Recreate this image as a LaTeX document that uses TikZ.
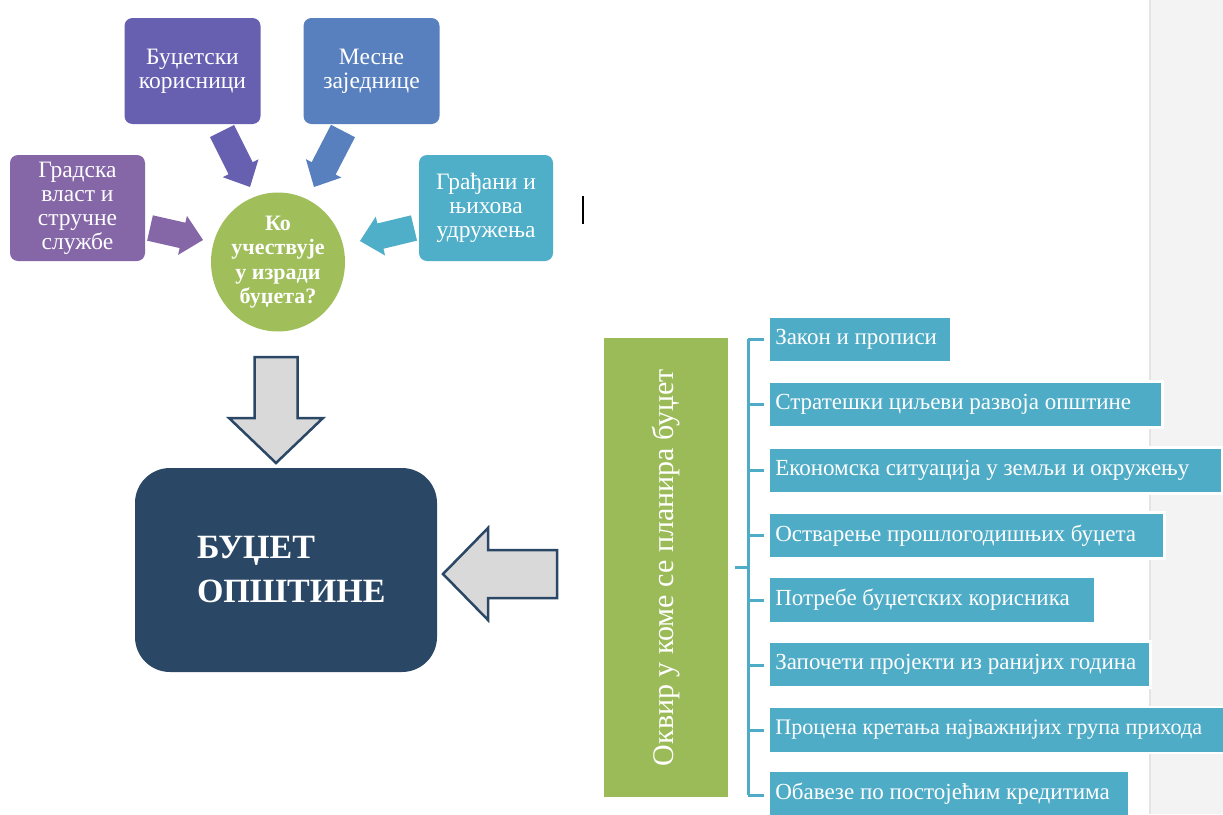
\documentclass[tikz,border=0pt]{standalone}
\usepackage{fontspec}
\setmainfont{Liberation Serif}
\usetikzlibrary{calc,shapes.geometric}
\definecolor{cBud}{HTML}{6760B1}
\definecolor{cMes}{HTML}{5880BE}
\definecolor{cGrad}{HTML}{8567A8}
\definecolor{cGra}{HTML}{4FAEC8}
\definecolor{cCirc}{HTML}{A0BE5A}
\definecolor{cNavy}{HTML}{2A4766}
\definecolor{cGreen}{HTML}{9BBB59}
\definecolor{cTeal}{HTML}{4FACC6}
\definecolor{cArrFill}{HTML}{D9D9D9}
\definecolor{cStrip}{HTML}{F3F3F3}
\definecolor{cStripLine}{HTML}{E4E4E4}
\newcommand\blockarrow[7]{% #1 prefix, #2 start, #3 tip, #4 half body, #5 half head, #6 head length, #7 style
  \coordinate (#1b) at ($(#3)!#6!(#2)$);
  \path[#7] ($(#2)!#4!90:(#3)$) -- ($(#1b)!#4!90:(#3)$) -- ($(#1b)!#5!90:(#3)$) -- (#3)
    -- ($(#1b)!#5!-90:(#3)$) -- ($(#1b)!#4!-90:(#3)$) -- ($(#2)!#4!-90:(#3)$) -- cycle;
}
\newcommand\itemtext[2]{\makebox[#1][l]{#2}}
\tikzset{
  topbox/.style={rounded corners=8pt, minimum width=136pt, minimum height=106pt, inner sep=0pt,
    text=white, align=center, font=\fontsize{23.5}{24}\selectfont},
  bigarrow/.style={fill=cArrFill, draw=cNavy, line width=2.5pt, line join=miter},
  itembox/.style={anchor=west, fill=cTeal, draw=white, line width=2.5pt, text=white,
    minimum height=46pt, inner xsep=7pt, inner ysep=0pt, font=\fontsize{23}{24}\selectfont},
  bracket/.style={draw=cTeal, line width=3pt},
}
\begin{document}
\begin{tikzpicture}[x=1pt,y=-1pt]
\useasboundingbox (0,0) rectangle (1223,814);
\clip (0,0) rectangle (1223,814);
\fill[white] (0,0) rectangle (1223,814);
% right grey strip
\fill[cStrip] (1149,0) rectangle (1223,814);
\draw[cStripLine, line width=2pt] (1150,0) -- (1150,814);

% top boxes
\node[topbox, fill=cBud] (bud) at (192.5,71) {Буџетски\\корисници};
\node[topbox, fill=cMes] (mes) at (371.5,71) {Месне\\заједнице};
\node[topbox, fill=cGrad, minimum width=135pt] (grad) at (77.5,208) {Градска\\власт и\\стручне\\службе};
\node[topbox, fill=cGra, minimum width=134pt] (gra) at (486,208) {Грађани и\\њихова\\удружења};
\node[ellipse, fill=cCirc, minimum width=134pt, minimum height=139pt, inner sep=0pt, text=white,
  align=center, font=\bfseries\fontsize{22}{24.5}\selectfont] (ko) at (278,262) {Ко\\учествује\\у изради\\буџета?};

% small arrows
\coordinate (a1s) at (222,131); \coordinate (a1t) at (250,187);
\coordinate (a2s) at (343,131); \coordinate (a2t) at (314,187);
\coordinate (a3s) at (150,228); \coordinate (a3t) at (203,240);
\coordinate (a4s) at (414,228); \coordinate (a4t) at (360,241);
\blockarrow{a1}{a1s}{a1t}{13.5pt}{20pt}{21pt}{fill=cBud}
\blockarrow{a2}{a2s}{a2t}{13.5pt}{20pt}{21pt}{fill=cMes}
\blockarrow{a3}{a3s}{a3t}{13pt}{20pt}{21pt}{fill=cGrad}
\blockarrow{a4}{a4s}{a4t}{13pt}{20pt}{21pt}{fill=cGra}

% main box
\node[fill=cNavy, rounded corners=35pt, text width=302pt, minimum height=204pt, inner sep=0pt,
  text=white, align=left, font=\bfseries\fontsize{34}{44}\selectfont] (main) at (286,570)
  {\hspace*{62pt}БУЏЕТ\\\hspace*{62pt}ОПШТИНЕ};

% big outlined arrows
\coordinate (dS) at (276,357); \coordinate (dT) at (276,463);
\blockarrow{d}{dS}{dT}{21.5pt}{47pt}{45pt}{bigarrow}
\coordinate (lS) at (557,574); \coordinate (lT) at (443,574);
\blockarrow{l}{lS}{lT}{24pt}{46pt}{45pt}{bigarrow}

% green frame
\node[fill=cGreen, minimum width=459pt, minimum height=124pt, inner sep=0pt, rotate=90, text=white,
  font=\fontsize{30}{32}\selectfont] (frame) at (666,567.5) {Оквир у коме се планира буџет};

% bracket
\coordinate (bTop) at (748,339); \coordinate (bBot) at (748,795);
\coordinate (bMid) at (748,567); \coordinate (bIn) at (735,567);
\draw[bracket] (bTop) -- (bBot);
\draw[bracket] (bIn) -- (bMid);
\foreach \y in {339,404,470,535,600,665,730,795} {
  \draw[bracket] (748,\y) -- (764,\y);
}

% item boxes
\node[itembox] (i1) at (767,339.5) {\itemtext{169pt}{Закон и прописи}};
\node[itembox] (i2) at (767,404.5) {\itemtext{380pt}{Стратешки циљеви развоја општине}};
\node[itembox] (i3) at (767,470.5) {\itemtext{440pt}{Економска ситуација у земљи и окружењу}};
\node[itembox] (i4) at (767,535.5) {\itemtext{382pt}{Остварење прошлогодишњих буџета}};
\node[itembox] (i5) at (767,600) {\itemtext{313pt}{Потребе буџетских корисника}};
\node[itembox] (i6) at (767,664.5) {\itemtext{368pt}{Започети пројекти из ранијих година}};
\node[itembox, font=\fontsize{22.2}{24}\selectfont] (i7) at (767,730) {\itemtext{456pt}{Процена кретања најважнијих група прихода}};
\node[itembox] (i8) at (767,794) {\itemtext{347pt}{Обавезе по постојећим кредитима}};

% text cursor
\draw[black, line width=2pt] (583,196) -- (583,224);
\end{tikzpicture}
\end{document}
